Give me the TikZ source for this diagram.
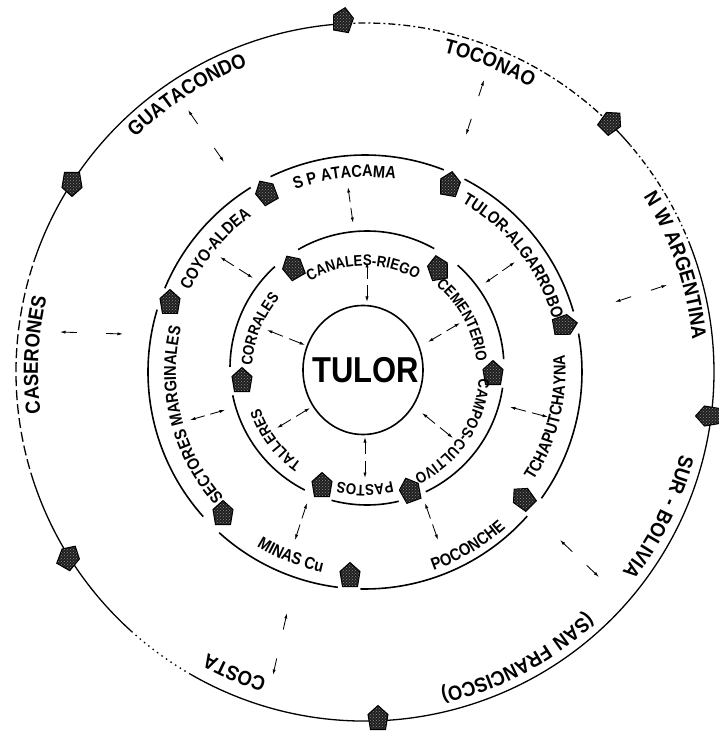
\documentclass[tikz,border=0pt]{standalone}
\usepackage{fontspec}
\setmainfont{Liberation Sans}
\newfontfamily\narrowsans[FakeStretch=0.86]{Liberation Sans}
\newfontfamily\spacedsans[FakeStretch=0.9, LetterSpace=6]{Liberation Sans}
\usetikzlibrary{decorations.text, arrows.meta, calc, patterns}

\newcommand\ringtwofont{\narrowsans\bfseries\fontsize{15.5}{16}\selectfont}
\newcommand\ringthreefont{\narrowsans\bfseries\fontsize{17}{17}\selectfont}
\newcommand\outerfont{\spacedsans\bfseries\fontsize{20.5}{21}\selectfont}

% clockwise label (letters' tops outward)
\newcommand\cwlabel[5]{%
  \path[decorate, decoration={text along path, text={|#1|#2}, text align=center}]
    ({#3+#4}:#5) arc[start angle={#3+#4}, end angle={#3-#4}, radius=#5];}
% counter-clockwise label (letters' tops inward)
\newcommand\ccwlabel[5]{%
  \path[decorate, decoration={text along path, text={|#1|#2}, text align=center}]
    ({#3-#4}:#5) arc[start angle={#3-#4}, end angle={#3+#4}, radius=#5];}

\newcommand\innerarrow[2]{%
  \draw[arr] ($(#1)!0.42!(#2)$) -- (#1);
  \draw[arr] ($(#1)!0.58!(#2)$) -- (#2);}
\newcommand\outerarrow[2]{%
  \draw[arr] ($(#1)!17pt!(#2)$) -- (#1);
  \draw[arr] ($(#2)!17pt!(#1)$) -- (#2);}

\tikzset{
  ringline/.style={line width=1.6pt},
  outerline/.style={line width=1.3pt},
  arr/.style={line width=0.85pt, -{Latex[length=5.5pt,width=3.2pt]}},
  mk/.pic={\path[preaction={fill=black!88}, pattern=crosshatch dots, pattern color=black!45,
       draw=black, line width=1pt]
     (0,12.5) -- (10,3.5) -- (7.5,-11.5) -- (-7.5,-11.5) -- (-10,3.5) -- cycle;},
}

\begin{document}
\begin{tikzpicture}[x=1pt, y=1pt]
\useasboundingbox[fill=white] (-365,-359) rectangle (353,372);

% ---------------- central circle
\draw[line width=1.6pt] (-2,2) ellipse[x radius=60, y radius=64.5];
\node[font=\narrowsans\bfseries\fontsize{36}{36}\selectfont, inner sep=0] (tulor) at (1,2) {TULOR};

% ---------------- ring 2
\begin{scope}[shift={(2,4)}]
\draw[ringline] (120.2:137) arc[start angle=120.2, end angle=60.6, radius=137];
\draw[ringline] (48.6:137) arc[start angle=48.6, end angle=3.7, radius=137];
\draw[ringline] (-8.3:137) arc[start angle=-8.3, end angle=-64.6, radius=137];
\draw[ringline] (-76.6:137) arc[start angle=-76.6, end angle=-105, radius=137];
\draw[ringline] (-117:137) arc[start angle=-117, end angle=-168.5, radius=137];
\draw[ringline] (179.5:137) arc[start angle=179.5, end angle=132.2, radius=137];
\end{scope}

% ---------------- ring 3
\draw[ringline] (157.3:217) arc[start angle=157.3, end angle=121.8, radius=217];
\draw[ringline] (115.8:217) arc[start angle=115.8, end angle=68.7, radius=217];
\draw[ringline] (62.7:217) arc[start angle=62.7, end angle=16.2, radius=217];
\draw[ringline] (10.2:217) arc[start angle=10.2, end angle=-35.6, radius=217];
\draw[ringline] (-41.6:217) arc[start angle=-41.6, end angle=-91.2, radius=217];
\draw[ringline] (-97.2:217) arc[start angle=-97.2, end angle=-132.2, radius=217];
\draw[ringline] (-138.2:217) arc[start angle=-138.2, end angle=-196.7, radius=217];

% ---------------- outer ring
\draw[outerline] (93.7:349) arc[start angle=93.7, end angle=147.4, radius=349];
\draw[outerline, dash pattern=on 7pt off 3pt on 2pt off 3pt] (45.6:349) arc[start angle=45.6, end angle=93.7, radius=349];
\draw[outerline] (40.5:349) arc[start angle=40.5, end angle=45.6, radius=349];
\draw[outerline, dash pattern=on 6pt off 3pt on 1.5pt off 3pt] (21:349) arc[start angle=21, end angle=40.5, radius=349];
\draw[outerline] (-120:349) arc[start angle=-120, end angle=21, radius=349];
\draw[outerline, dash pattern=on 1.5pt off 4pt] (-132:349) arc[start angle=-132, end angle=-120, radius=349];
\draw[outerline] (-163:349) arc[start angle=-163, end angle=-132, radius=349];
\draw[outerline, dash pattern=on 10pt off 4pt] (160:349) arc[start angle=160, end angle=197, radius=349];
\draw[outerline] (147.4:349) arc[start angle=147.4, end angle=160, radius=349];

% ---------------- marks
% outer
\pic[rotate=-10] at (-22,352) {mk};
\pic[rotate=-45] at (246,250) {mk};
\pic[rotate=90] at (343,-44) {mk};
\pic[rotate=0] at (13,-346) {mk};
\pic[rotate=-30] at (-296,-185) {mk};
\pic[rotate=180] at (-293,188) {mk};
% ring 3
\pic[rotate=30] at (-99,180) {mk};
\pic[rotate=-10] at (85,188) {mk};
\pic[rotate=-80] at (200,47) {mk};
\pic[rotate=45] at (158,-126) {mk};
\pic[rotate=0] at (-15,-203) {mk};
\pic[rotate=0] at (-142,-141) {mk};
\pic[rotate=0] at (-195,70) {mk};
% ring 2
\pic[rotate=30] at (-72,105) {mk};
\pic[rotate=10] at (73,104) {mk};
\pic[rotate=0] at (128,-1) {mk};
\pic[rotate=20] at (45,-118) {mk};
\pic[rotate=0] at (-43,-113) {mk};
\pic[rotate=0] at (-123,-8) {mk};

% ---------------- labels, ring 2
\cwlabel{\ringtwofont}{CANALES-RIEGO}{91}{60}{106}
\cwlabel{\ringtwofont}{CEMENTERIO}{28}{50}{112}
\cwlabel{\ringtwofont}{CAMPOS-CULTIVO}{-34}{60}{114}
\cwlabel{\ringtwofont}{PASTOS}{-90}{40}{113}
\cwlabel{\ringtwofont}{TALLERES}{-143}{40}{111}
\cwlabel{\ringtwofont}{CORRALES}{158}{40}{113}

% ---------------- labels, ring 3
\cwlabel{\ringthreefont}{S P ATACAMA}{96}{35}{195}
\cwlabel{\ringthreefont}{TULOR-ALGARROBO}{38}{40}{195}
\ccwlabel{\ringthreefont}{TCHAPUTCHAYNA}{-14}{35}{200.5}
\ccwlabel{\ringthreefont}{POCONCHE}{-59.4}{25}{210}
\ccwlabel{\ringthreefont}{MINAS Cu}{-112}{25}{205}
\cwlabel{\ringthreefont}{SECTORES MARGINALES}{194}{45}{189}
\cwlabel{\ringthreefont}{COYO-ALDEA}{140.5}{30}{193}

% ---------------- labels, outer ring
\cwlabel{\outerfont}{GUATACONDO}{122.7}{20}{328}
\cwlabel{\outerfont}{TOCONAO}{68}{15}{329}
\cwlabel{\outerfont}{N W ARGENTINA}{18.9}{20}{329}
\cwlabel{\outerfont}{SUR - BOLIVIA}{-26.3}{20}{326}
\cwlabel{\outerfont}{(SAN FRANCISCO)}{-62}{22}{327}
\cwlabel{\outerfont}{COSTA}{-113.5}{15}{322}
\cwlabel{\outerfont}{CASERONES}{177}{20}{327}

% ---------------- arrow end points
\coordinate (canA) at (2,110);   \coordinate (canB) at (2,70);
\coordinate (cemA) at (95,49);   \coordinate (cemB) at (63,30);
\coordinate (corA) at (-98,42);  \coordinate (corB) at (-60,27);
\coordinate (talA) at (-88,-56); \coordinate (talB) at (-55,-36);
\coordinate (pasA) at (0,-106);  \coordinate (pasB) at (0,-65);
\coordinate (camA) at (88,-66);  \coordinate (camB) at (57,-41);

\coordinate (ataA) at (-17,185);  \coordinate (ataB) at (-12,149);
\coordinate (algA) at (150,110);  \coordinate (algB) at (120,89);
\coordinate (tchA) at (183,-45);  \coordinate (tchB) at (145,-35);
\coordinate (pocA) at (73,-168);  \coordinate (pocB) at (60,-131);
\coordinate (minA) at (-70,-168); \coordinate (minB) at (-58,-131);
\coordinate (secA) at (-175,-48); \coordinate (secB) at (-140,-38);
\coordinate (coyA) at (-145,115); \coordinate (coyB) at (-112,94);

\coordinate (guaA) at (-177,262); \coordinate (guaB) at (-141,210);
\coordinate (tocA) at (119,292);  \coordinate (tocB) at (101,237);
\coordinate (argA) at (302,87);   \coordinate (argB) at (250,70);
\coordinate (surA) at (234,-205); \coordinate (surB) at (195,-168);
\coordinate (cosA) at (-92,-303); \coordinate (cosB) at (-78,-241);
\coordinate (casA) at (-305,40);  \coordinate (casB) at (-242,38);

\innerarrow{canA}{canB}
\innerarrow{cemA}{cemB}
\innerarrow{corA}{corB}
\innerarrow{talA}{talB}
\innerarrow{pasA}{pasB}
\innerarrow{camA}{camB}
\innerarrow{ataA}{ataB}
\innerarrow{algA}{algB}
\innerarrow{tchA}{tchB}
\innerarrow{pocA}{pocB}
\innerarrow{minA}{minB}
\innerarrow{secA}{secB}
\innerarrow{coyA}{coyB}

\outerarrow{guaA}{guaB}
\outerarrow{tocA}{tocB}
\outerarrow{argA}{argB}
\outerarrow{surA}{surB}
\outerarrow{cosA}{cosB}
\outerarrow{casA}{casB}
\end{tikzpicture}
\end{document}
